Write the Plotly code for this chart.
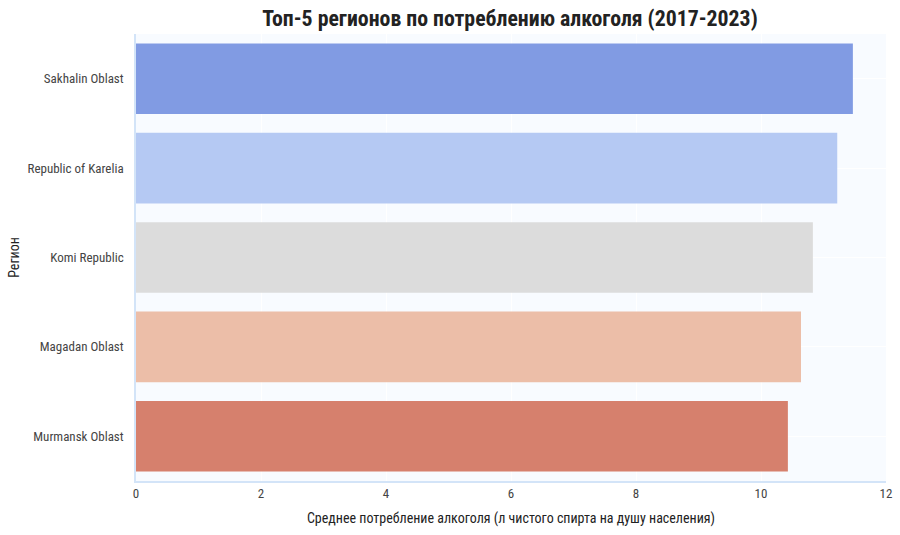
import plotly.graph_objects as go

regions = ["Sakhalin Oblast", "Republic of Karelia", "Komi Republic", "Magadan Oblast", "Murmansk Oblast"]
values = [11.47, 11.22, 10.83, 10.64, 10.43]
colors = ["#819be3", "#b5c9f3", "#dcdcdc", "#ecbea8", "#d6806d"]
x_ticks = [0, 2, 4, 6, 8, 10, 12]

FONT = "Roboto Condensed, Arial Narrow, sans-serif"

fig = go.Figure(go.Bar(
    x=values, y=regions, orientation="h",
    marker=dict(color=colors, line=dict(width=0)),
    width=0.79,
))

fig.update_layout(
    width=900, height=535,
    margin=dict(l=136, r=14, t=34, b=54),
    paper_bgcolor="white",
    plot_bgcolor="#f8fbff",
    showlegend=False,
    font=dict(family=FONT, size=13, color="#444"),
    title=dict(text="<b>Топ-5 регионов по потреблению алкоголя (2017-2023)</b>",
               x=0.5667, xanchor="center", y=0.966, yanchor="middle",
               font=dict(family=FONT, size=21.8, color="#222")),
)
fig.update_xaxes(
    range=[0, 12], tickvals=x_ticks, ticktext=[str(t) for t in x_ticks],
    showgrid=True, gridcolor="white", gridwidth=1,
    showline=True, linecolor="#d3e4f8", linewidth=1.5,
    zeroline=False, ticks="", tickfont=dict(size=13, color="#444"),
    automargin=False,
    title=dict(text="Среднее потребление алкоголя (л чистого спирта на душу населения)",
               font=dict(size=14, color="#222"), standoff=13),
)
fig.update_yaxes(
    categoryorder="array", categoryarray=regions[::-1],
    range=[-0.5, 4.5],
    showgrid=True, gridcolor="white", gridwidth=1,
    showline=True, linecolor="#d3e4f8", linewidth=1.5,
    zeroline=False, ticks="", ticklabelstandoff=8,
    automargin=False,
    tickfont=dict(size=13, color="#444"),
    title=dict(text="Регион", font=dict(size=14, color="#222"), standoff=5),
)

fig.write_html("out.html")
